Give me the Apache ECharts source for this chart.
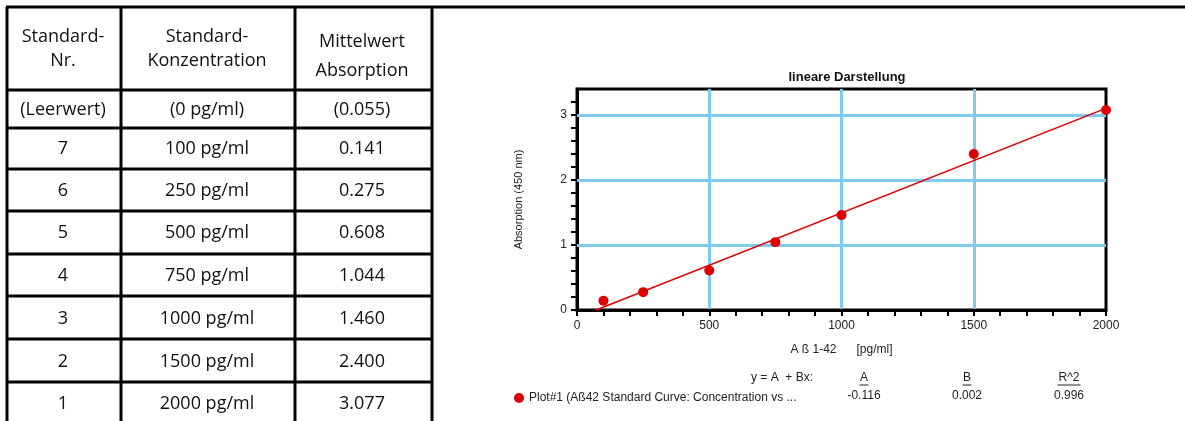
<!DOCTYPE html>
<html>
<head>
<meta charset="utf-8">
<script src="https://cdn.jsdelivr.net/npm/echarts@6/dist/echarts.min.js"></script>
<style>
html,body{margin:0;padding:0;background:#fff;}
#c{width:1185px;height:421px;}
</style>
</head>
<body>
<div id="c"></div>
<script>
// ---- table data ----
const tableHeader = [['Standard-', 'Nr.'], ['Standard-', 'Konzentration'], ['Mittelwert', 'Absorption']];
const standardNr = ['(Leerwert)', '7', '6', '5', '4', '3', '2', '1'];
const concLabels = ['(0 pg/ml)', '100 pg/ml', '250 pg/ml', '500 pg/ml', '750 pg/ml', '1000 pg/ml', '1500 pg/ml', '2000 pg/ml'];
const absLabels = ['(0.055)', '0.141', '0.275', '0.608', '1.044', '1.460', '2.400', '3.077'];

// ---- chart data ----
const concentration = [100, 250, 500, 750, 1000, 1500, 2000];
const absorption = [0.141, 0.275, 0.608, 1.044, 1.460, 2.400, 3.077];
const yGridValues = [1, 2, 3];
const fitXRange = [72, 2120];
const fitHeaders = ['A', 'B', 'R^2'];
const fitValues = ['-0.116', '0.002', '0.996'];
const seriesName = 'Plot#1 (Aß42 Standard Curve: Concentration vs ...';

// least squares fit from the data
const n = concentration.length;
const mx = concentration.reduce((a, b) => a + b, 0) / n;
const my = absorption.reduce((a, b) => a + b, 0) / n;
let sxy = 0, sxx = 0;
for (let i = 0; i < n; i++) { sxy += (concentration[i] - mx) * (absorption[i] - my); sxx += (concentration[i] - mx) ** 2; }
const slope = sxy / sxx, intercept = my - slope * mx;
const fitLine = fitXRange.map(x => [x, intercept + slope * x]);

// ---- layout ----
const colX = [7, 121, 295, 432];
const rowY = [7, 90, 128, 169, 211, 254, 296, 339, 382];
const colCenter = [63, 207, 362];
const headerY = [[37, 61], [37, 61], [42, 71]];
const bodyY = [110, 149, 191, 233, 276, 319, 362, 404];
const tFont = '"Open Sans", sans-serif';
const cFont = '"Liberation Sans", Arial, sans-serif';

const graphics = [];
function hline(x1, x2, y, w) {
  graphics.push({type: 'line', shape: {x1: x1, y1: y, x2: x2, y2: y}, style: {stroke: '#000', lineWidth: w}, silent: true});
}
function vline(x, y1, y2, w) {
  graphics.push({type: 'line', shape: {x1: x, y1: y1, x2: x, y2: y2}, style: {stroke: '#000', lineWidth: w}, silent: true});
}
function txt(s, x, y, size, family, align, color, weight) {
  graphics.push({type: 'text', x: x, y: y, silent: true,
    style: {text: s, fill: color || '#111', fontSize: size, fontFamily: family, fontWeight: weight || 'normal',
      align: align || 'center', verticalAlign: 'middle', textAlign: align || 'center', textVerticalAlign: 'middle'}});
}
// table lines
hline(6, 1185, rowY[0], 3);
for (let i = 1; i < rowY.length; i++) hline(colX[0], colX[3], rowY[i], 3);
colX.forEach(x => vline(x, rowY[0], 421, 3));
// header text
tableHeader.forEach((lines, c) => lines.forEach((s, k) => txt(s, colCenter[c], headerY[c][k], 18, tFont)));
// body text
[standardNr, concLabels, absLabels].forEach((col, c) => col.forEach((s, r) => txt(s, colCenter[c], bodyY[r], 18, tFont)));

// fit statistics below the chart
txt('y = A  + Bx:', 813, 378, 12, cFont, 'right', '#222');
const fitColX = [864, 967, 1069];
fitHeaders.forEach((s, i) => {
  txt(s, fitColX[i], 378, 12, cFont, 'center', '#222');
  const w = s.length * 7 + 2;
  graphics.push({type: 'line', shape: {x1: fitColX[i] - w / 2, y1: 385, x2: fitColX[i] + w / 2, y2: 385}, style: {stroke: '#222', lineWidth: 1}, silent: true});
});
fitValues.forEach((s, i) => txt(s, fitColX[i], 396, 12, cFont, 'center', '#222'));

const blue = '#7fcbec';
const chart = echarts.init(document.getElementById('c'));
chart.setOption({
  animation: false,
  backgroundColor: '#fff',
  title: {
    text: 'lineare Darstellung', left: 842, top: 66, textAlign: 'center',
    textStyle: {fontSize: 13, fontWeight: 'bold', fontFamily: cFont, color: '#111'}
  },
  legend: {
    data: [seriesName], left: 509, top: 387, icon: 'circle', itemWidth: 10, itemHeight: 10,
    textStyle: {fontSize: 12, fontFamily: cFont, color: '#222', padding: [0, 0, 0, 0]}
  },
  grid: {left: 577, right: 79, top: 89, bottom: 111, show: true, borderColor: '#000', borderWidth: 3, backgroundColor: 'rgba(0,0,0,0)'},
  xAxis: {
    type: 'value', min: 0, max: 2000, interval: 500,
    name: 'A ß 1-42      [pg/ml]', nameLocation: 'middle', nameGap: 34,
    nameTextStyle: {fontSize: 12, fontFamily: cFont, color: '#222'},
    axisLine: {show: true, lineStyle: {color: '#000', width: 3}},
    axisTick: {show: true, length: 6, lineStyle: {color: '#000', width: 2}},
    minorTick: {show: true, splitNumber: 5, length: 6, lineStyle: {color: '#000', width: 2}},
    splitLine: {show: true, showMinLine: false, showMaxLine: false, lineStyle: {color: blue, width: 3}},
    axisLabel: {fontSize: 12, fontFamily: cFont, color: '#222', margin: 10, formatter: v => String(v)}
  },
  yAxis: {
    type: 'value', min: 0, max: 3.4, interval: 0.2,
    name: 'Absorption (450 nm)', nameLocation: 'middle', nameGap: 53,
    nameTextStyle: {fontSize: 11, fontFamily: cFont, color: '#222'},
    axisLine: {show: true, lineStyle: {color: '#000', width: 3}},
    axisTick: {show: true, length: 6, lineStyle: {color: '#000', width: 2}},
    splitLine: {show: false},
    axisLabel: {fontSize: 12, fontFamily: cFont, color: '#222', margin: 10, showMaxLabel: false,
      formatter: v => (Math.abs(v - Math.round(v)) < 1e-6 ? String(Math.round(v)) : '')}
  },
  series: [{
    type: 'line', data: fitLine, showSymbol: false, symbol: 'none', clip: false, silent: true,
    lineStyle: {color: '#e00000', width: 1.5}, z: 3,
    markLine: {
      silent: true, symbol: 'none', label: {show: false}, animation: false, z: 1,
      lineStyle: {color: blue, width: 3, type: 'solid'},
      emphasis: {disabled: true},
      data: yGridValues.map(v => ({yAxis: v}))
    }
  }, {
    name: seriesName, type: 'scatter', symbolSize: 10,
    data: concentration.map((x, i) => [x, absorption[i]]),
    itemStyle: {color: '#e00000', opacity: 1}, z: 4
  }],
  graphic: graphics
});
</script>
</body>
</html>
